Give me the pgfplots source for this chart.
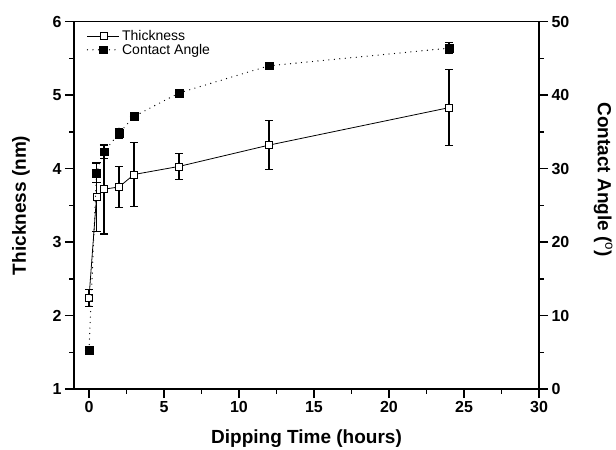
\documentclass[border=0pt]{standalone}
\usepackage{fontspec}
\setmainfont{Liberation Sans}
\usepackage{pgfplots}
\pgfplotsset{compat=1.18}
\pgfplotstableread{
x y e
0 2.24 0.12
0.5 3.61 0.47
1 3.72 0.61
2 3.75 0.28
3 3.92 0.43
6 4.03 0.18
12 4.32 0.33
24 4.83 0.52
}\thick
\pgfplotstableread{
x y e
0 5.3 0
0.5 29.4 1.3
1 32.3 0.9
2 34.8 0.7
3 37.1 0
6 40.3 0
12 44.0 0
24 46.4 0.75
}\angle
\begin{document}
\begin{tikzpicture}
\useasboundingbox (-74bp,-61bp) rectangle (542bp,389bp);
\pgfplotsset{
  common/.style={
    scale only axis, width=465bp, height=367.3bp,
    xmin=-1, xmax=30,
    axis line style={line width=1.5bp},
    tick align=outside,
    major tick length=9bp, minor tick length=4.5bp,
    every tick/.style={black, line width=1.5bp},
    /pgf/number format/assume math mode=true,
    tick label style={font=\fontsize{16bp}{18bp}\selectfont\bfseries},
    label style={font=\fontsize{19bp}{22bp}\selectfont\bfseries},
  }
}
\begin{axis}[common,
  axis y line*=left,
  ymin=1, ymax=6,
  xtick={0,5,...,30}, minor x tick num=1, xtick pos=left,
  ytick={1,...,6}, minor y tick num=1,
  xlabel={Dipping Time (hours)},
  ylabel={Thickness (nm)},
  xlabel style={at={(axis description cs:0.5,-0.148)}, anchor=base},
  ylabel style={at={(axis description cs:-0.114,0.5)}, anchor=center, rotate=0},
]
\addplot[black, line width=0.8bp, mark=square*, mark size=3.5bp,
  mark options={fill=white, solid, line width=0.8bp},
  error bars/.cd, y dir=both, y explicit,
  error bar style={line width=1.1bp},
  error mark options={rotate=90, mark size=4bp, line width=1.1bp}]
  table[x=x, y=y, y error=e] {\thick};
\end{axis}
\begin{axis}[common,
  axis y line*=right, axis x line=none,
  ymin=0, ymax=50,
  ytick={0,10,...,50}, minor y tick num=1,
  ylabel={Contact Angle ($^{\mathrm{o}}$)},
  ylabel style={at={(axis description cs:1.138,0.57)}, anchor=center, rotate=180},
  legend style={at={(axis description cs:0.025,0.985)}, anchor=north west,
    draw=none, fill=none, font=\fontsize{14bp}{17bp}\selectfont,
    row sep=-2bp, inner sep=1bp},
  legend cell align=left,
  legend image code/.code={\draw[mark repeat=2, mark phase=2, #1] plot coordinates {(0bp,0bp) (16bp,0bp) (32bp,0bp)};},
]
\addlegendimage{black, line width=0.8bp, mark=square*, mark size=3.5bp, mark options={fill=white, solid, line width=0.8bp}}
\addlegendentry{Thickness}
\addplot[black, line width=1.3bp, line cap=round, dash pattern=on 0bp off 5.5bp, mark=square*, mark size=3.8bp,
  mark options={fill=black, solid, line width=0.5bp},
  error bars/.cd, y dir=both, y explicit,
  error bar style={line width=1.1bp, solid},
  error mark options={rotate=90, mark size=4bp, line width=1.1bp}]
  table[x=x, y=y, y error=e] {\angle};
\addlegendentry{Contact Angle}
\end{axis}
\end{tikzpicture}
\end{document}
